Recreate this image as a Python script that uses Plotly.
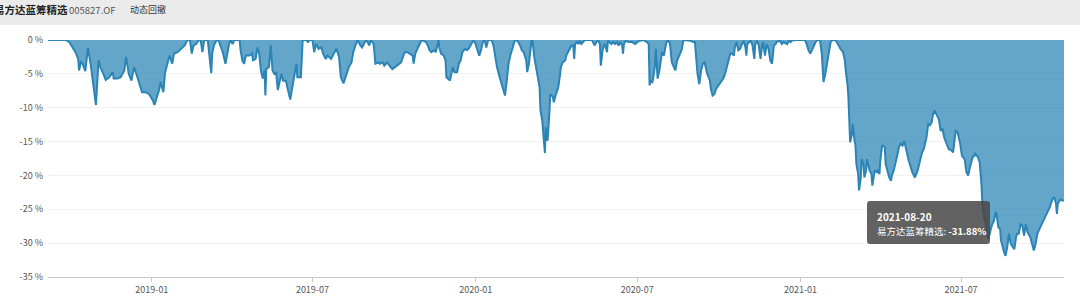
import plotly.graph_objects as go

# ---- data ----
fund_name = "易方达蓝筹精选"
fund_code = "005827.OF"
chart_kind = "动态回撤"

dates = [
    "2018-09-06", "2018-09-26", "2018-09-30", "2018-10-03", "2018-10-07", "2018-10-10", "2018-10-11", "2018-10-13",
    "2018-10-15", "2018-10-18", "2018-10-21", "2018-10-24", "2018-10-27", "2018-10-30", "2018-11-02", "2018-11-04",
    "2018-11-08", "2018-11-10", "2018-11-14", "2018-11-18", "2018-11-19", "2018-11-23", "2018-11-27", "2018-12-01",
    "2018-12-03", "2018-12-06", "2018-12-09", "2018-12-12", "2018-12-15", "2018-12-18", "2018-12-21", "2018-12-25",
    "2018-12-29", "2019-01-02", "2019-01-04", "2019-01-06", "2019-01-09", "2019-01-11", "2019-01-14", "2019-01-16",
    "2019-01-19", "2019-01-21", "2019-01-24", "2019-01-26", "2019-01-30", "2019-02-03", "2019-02-07", "2019-02-10",
    "2019-02-13", "2019-02-15", "2019-02-17", "2019-02-20", "2019-02-23", "2019-02-25", "2019-02-27", "2019-03-01",
    "2019-03-05", "2019-03-09", "2019-03-10", "2019-03-12", "2019-03-15", "2019-03-17", "2019-03-20", "2019-03-22",
    "2019-03-25", "2019-03-27", "2019-03-29", "2019-03-31", "2019-04-02", "2019-04-04", "2019-04-10", "2019-04-11",
    "2019-04-13", "2019-04-15", "2019-04-17", "2019-04-21", "2019-04-24", "2019-04-25", "2019-04-28", "2019-04-30",
    "2019-05-02", "2019-05-04", "2019-05-06", "2019-05-08", "2019-05-09", "2019-05-10", "2019-05-13", "2019-05-15",
    "2019-05-17", "2019-05-19", "2019-05-21", "2019-05-23", "2019-05-25", "2019-05-27", "2019-05-29", "2019-06-01",
    "2019-06-04", "2019-06-06", "2019-06-08", "2019-06-11", "2019-06-13", "2019-06-14", "2019-06-18", "2019-06-20",
    "2019-06-24", "2019-06-26", "2019-06-28", "2019-07-01", "2019-07-03", "2019-07-05", "2019-07-08", "2019-07-11",
    "2019-07-13", "2019-07-16", "2019-07-18", "2019-07-22", "2019-07-25", "2019-07-28", "2019-07-31", "2019-08-02",
    "2019-08-05", "2019-08-08", "2019-08-11", "2019-08-14", "2019-08-16", "2019-08-19", "2019-08-21", "2019-08-24",
    "2019-08-26", "2019-08-29", "2019-08-31", "2019-09-03", "2019-09-05", "2019-09-08", "2019-09-10", "2019-09-13",
    "2019-09-15", "2019-09-18", "2019-09-20", "2019-09-23", "2019-09-26", "2019-09-29", "2019-10-02", "2019-10-04",
    "2019-10-07", "2019-10-09", "2019-10-11", "2019-10-13", "2019-10-16", "2019-10-19", "2019-10-22", "2019-10-23",
    "2019-10-25", "2019-10-28", "2019-10-30", "2019-11-01", "2019-11-03", "2019-11-06", "2019-11-08", "2019-11-10",
    "2019-11-12", "2019-11-15", "2019-11-17", "2019-11-19", "2019-11-20", "2019-11-21", "2019-11-23", "2019-11-26",
    "2019-11-28", "2019-11-29", "2019-12-01", "2019-12-03", "2019-12-05", "2019-12-06", "2019-12-08", "2019-12-11",
    "2019-12-13", "2019-12-15", "2019-12-17", "2019-12-20", "2019-12-22", "2019-12-24", "2019-12-27", "2019-12-29",
    "2019-12-31", "2020-01-02", "2020-01-05", "2020-01-07", "2020-01-09", "2020-01-11", "2020-01-13", "2020-01-15",
    "2020-01-19", "2020-01-21", "2020-01-23", "2020-01-25", "2020-01-28", "2020-01-31", "2020-02-03", "2020-02-05",
    "2020-02-07", "2020-02-09", "2020-02-12", "2020-02-14", "2020-02-16", "2020-02-18", "2020-02-20", "2020-02-22",
    "2020-02-24", "2020-02-27", "2020-02-28", "2020-03-01", "2020-03-04", "2020-03-05", "2020-03-07", "2020-03-09",
    "2020-03-10", "2020-03-13", "2020-03-14", "2020-03-16", "2020-03-17", "2020-03-19", "2020-03-20", "2020-03-22",
    "2020-03-24", "2020-03-25", "2020-03-28", "2020-03-29", "2020-03-31", "2020-04-03", "2020-04-05", "2020-04-06",
    "2020-04-08", "2020-04-11", "2020-04-12", "2020-04-14", "2020-04-16", "2020-04-18", "2020-04-20", "2020-04-21",
    "2020-04-22", "2020-04-24", "2020-04-26", "2020-04-27", "2020-04-29", "2020-05-01", "2020-05-03", "2020-05-11",
    "2020-05-12", "2020-05-14", "2020-05-16", "2020-05-18", "2020-05-20", "2020-05-21", "2020-05-23", "2020-05-25",
    "2020-05-26", "2020-05-28", "2020-05-29", "2020-05-31", "2020-06-02", "2020-06-04", "2020-06-06", "2020-06-08",
    "2020-06-10", "2020-06-12", "2020-06-14", "2020-06-15", "2020-06-16", "2020-06-18", "2020-06-21", "2020-06-25",
    "2020-06-29", "2020-07-01", "2020-07-04", "2020-07-08", "2020-07-12", "2020-07-14", "2020-07-15", "2020-07-16",
    "2020-07-18", "2020-07-19", "2020-07-21", "2020-07-22", "2020-07-24", "2020-07-26", "2020-07-28", "2020-07-29",
    "2020-07-31", "2020-08-02", "2020-08-03", "2020-08-05", "2020-08-07", "2020-08-09", "2020-08-11", "2020-08-13",
    "2020-08-15", "2020-08-17", "2020-08-18", "2020-08-20", "2020-08-22", "2020-08-24", "2020-08-30", "2020-09-02",
    "2020-09-04", "2020-09-06", "2020-09-07", "2020-09-09", "2020-09-11", "2020-09-13", "2020-09-15", "2020-09-17",
    "2020-09-18", "2020-09-21", "2020-09-22", "2020-09-24", "2020-09-26", "2020-09-28", "2020-10-01", "2020-10-03",
    "2020-10-06", "2020-10-08", "2020-10-10", "2020-10-12", "2020-10-14", "2020-10-16", "2020-10-18", "2020-10-19",
    "2020-10-21", "2020-10-23", "2020-10-25", "2020-10-27", "2020-10-29", "2020-10-31", "2020-11-01", "2020-11-02",
    "2020-11-05", "2020-11-06", "2020-11-08", "2020-11-10", "2020-11-11", "2020-11-13", "2020-11-15", "2020-11-16",
    "2020-11-17", "2020-11-19", "2020-11-20", "2020-11-22", "2020-11-24", "2020-11-26", "2020-11-28", "2020-11-30",
    "2020-12-01", "2020-12-02", "2020-12-04", "2020-12-05", "2020-12-09", "2020-12-11", "2020-12-13", "2020-12-17",
    "2020-12-19", "2020-12-21", "2020-12-22", "2020-12-26", "2021-01-06", "2021-01-08", "2021-01-10", "2021-01-12",
    "2021-01-14", "2021-01-16", "2021-01-18", "2021-01-20", "2021-01-23", "2021-01-25", "2021-01-27", "2021-01-29",
    "2021-01-31", "2021-02-02", "2021-02-04", "2021-02-06", "2021-02-09", "2021-02-11", "2021-02-13", "2021-02-15",
    "2021-02-18", "2021-02-20", "2021-02-21", "2021-02-23", "2021-02-24", "2021-02-25", "2021-02-26", "2021-02-28",
    "2021-03-01", "2021-03-03", "2021-03-04", "2021-03-05", "2021-03-07", "2021-03-08", "2021-03-10", "2021-03-11",
    "2021-03-13", "2021-03-14", "2021-03-16", "2021-03-17", "2021-03-19", "2021-03-20", "2021-03-22", "2021-03-23",
    "2021-03-25", "2021-03-26", "2021-03-28", "2021-03-29", "2021-03-31", "2021-04-01", "2021-04-03", "2021-04-04",
    "2021-04-06", "2021-04-07", "2021-04-09", "2021-04-11", "2021-04-13", "2021-04-14", "2021-04-16", "2021-04-18",
    "2021-04-20", "2021-04-22", "2021-04-24", "2021-04-26", "2021-04-28", "2021-04-30", "2021-05-03", "2021-05-07",
    "2021-05-10", "2021-05-13", "2021-05-16", "2021-05-18", "2021-05-20", "2021-05-23", "2021-05-25", "2021-05-27",
    "2021-05-29", "2021-05-30", "2021-06-01", "2021-06-04", "2021-06-06", "2021-06-08", "2021-06-10", "2021-06-12",
    "2021-06-15", "2021-06-17", "2021-06-20", "2021-06-22", "2021-06-24", "2021-06-25", "2021-06-27", "2021-06-29",
    "2021-06-30", "2021-07-02", "2021-07-05", "2021-07-07", "2021-07-09", "2021-07-11", "2021-07-14", "2021-07-16",
    "2021-07-17", "2021-07-20", "2021-07-22", "2021-07-24", "2021-07-25", "2021-07-27", "2021-07-29", "2021-07-31",
    "2021-08-01", "2021-08-03", "2021-08-05", "2021-08-07", "2021-08-09", "2021-08-10", "2021-08-12", "2021-08-14",
    "2021-08-15", "2021-08-18", "2021-08-20", "2021-08-22", "2021-08-24", "2021-08-26", "2021-08-28", "2021-08-30",
    "2021-09-01", "2021-09-02", "2021-09-04", "2021-09-05", "2021-09-06", "2021-09-08", "2021-09-10", "2021-09-12",
    "2021-09-14", "2021-09-17", "2021-09-19", "2021-09-21", "2021-09-23", "2021-09-25", "2021-09-28", "2021-10-01",
    "2021-10-03", "2021-10-06", "2021-10-09", "2021-10-12", "2021-10-14", "2021-10-16", "2021-10-17", "2021-10-18",
    "2021-10-21", "2021-10-23", "2021-10-25",
]

drawdown = [
    0, 0, -0.3, -1.0, -1.8, -2.8, -4.5, -3.3,
    -3.5, -4.6, -1.2, -3.5, -7.0, -9.6, -3.0, -4.0,
    -5.2, -5.9, -5.5, -4.75, -5.7, -5.7, -5.5, -4.5,
    -2.5, -5.0, -6.0, -4.0, -5.2, -6.5, -7.7, -7.7,
    -8.0, -8.9, -9.6, -8.7, -7.5, -6.2, -7.7, -4.75,
    -3.5, -2.3, -3.5, -2.0, -1.8, -1.3, -0.8, 0,
    0, -2.0, -0.8, -0.6, 0, 0, -1.8, 0,
    0, -4.9, -2.0, -0.8, 0, 0, -1.1, -1.8,
    -3.5, -2.0, -0.6, 0, -0.6, 0, 0, -1.5,
    -3.0, -3.5, -2.3, -2.3, -2.0, -3.0, -2.8, -1.1,
    -2.0, -4.5, -5.7, -4.5, -8.2, -4.3, -4.0, -0.8,
    -4.5, -5.0, -4.75, -7.4, -6.0, -5.0, -6.0, -6.0,
    -7.7, -8.8, -7.2, -5.0, -3.5, -5.5, -5.5, 0,
    0, -0.3, 0, 0, -1.8, -0.6, -1.3, -1.1,
    -2.0, -2.8, -2.3, -2.8, -2.0, -1.3, -2.5, -5.5,
    -6.4, -5.2, -4.0, -3.3, -1.8, -0.6, 0, -0.8,
    -1.1, -0.3, 0, -0.8, 0, -0.6, -3.5, -3.3,
    -3.5, -3.3, -3.8, -3.3, -3.8, -4.3, -4.0, -3.8,
    -3.5, -3.3, -2.5, -1.8, -1.8, -2.0, -2.3, -3.5,
    -2.0, -1.1, -0.6, 0, -0.1, -0.3, -0.8, -1.5,
    -1.8, -1.5, -1.8, -0.6, 0, -1.1, -2.0, -2.3,
    -3.0, -5.5, -5.7, -6.0, -4.75, -4.0, -4.75, -4.75,
    -3.5, -3.0, -1.8, -1.3, -1.5, -1.3, -0.6, -0.1,
    -0.3, -1.1, -2.3, -1.5, -0.3, 0, -1.1, 0,
    0, -0.8, -2.5, -4.0, -5.5, -6.7, -8.2, -6.0,
    -3.5, -2.3, -1.1, -0.1, 0, -0.3, -0.8, -1.5,
    -1.8, -3.0, -4.75, -3.5, 0, 0, -2.5, -4.5,
    -4.75, -7.0, -10.4, -11.9, -13.4, -16.7, -12.9, -14.9,
    -10.9, -8.0, -8.4, -9.2, -8.2, -7.0, -5.2, -4.0,
    -3.3, -3.0, -2.3, -1.8, -1.5, -0.8, -0.8, -2.8,
    -0.6, -0.3, -0.6, -0.1, -0.6, -0.3, 0, 0,
    -0.3, -0.8, -0.3, 0, -0.6, -3.8, -1.5, -0.6,
    -0.8, -1.8, -0.1, -0.3, -0.6, -0.3, -0.6, -0.3,
    -0.8, -0.3, -0.8, -2.0, -0.6, -0.1, -0.3, -0.3,
    -0.6, -0.3, -0.1, 0, -0.3, -0.6, -6.7, -6.0,
    -6.2, -5.7, -3.8, -1.3, -5.7, -4.5, -2.8, -1.8,
    -2.3, -1.1, -0.3, 0, -0.6, -3.3, -3.8, -4.5,
    -3.0, -2.3, -2.0, -1.5, -0.1, 0, -0.1, -0.3,
    -0.3, -3.0, -5.0, -6.5, -4.5, -3.5, -3.3, -4.5,
    -5.0, -6.0, -7.2, -8.2, -8.0, -7.2, -6.7, -6.2,
    -5.7, -5.0, -4.0, -3.0, -2.0, -2.0, -2.3, -1.1,
    -0.3, -1.5, -1.3, -0.6, -0.1, -1.1, -2.3, -0.6,
    -0.3, -0.1, -0.8, -2.8, -0.6, -0.1, -0.8, -1.5,
    -2.8, -0.6, -0.3, -2.3, -0.6, -1.3, -3.0, -3.5,
    -2.3, -0.8, -0.6, -0.3, -0.1, -0.6, -0.3, -0.6,
    -0.1, -0.3, -0.1, 0, 0, -0.6, -1.5, -2.0,
    -1.5, -0.8, -0.3, 0, 0, -2.0, -6.2, -5.0,
    -3.5, -1.5, -0.3, 0, 0, -0.3, -0.8, -1.3,
    -1.8, -3.0, -4.5, -6.5, -8.4, -10.9, -15.1, -13.9,
    -12.4, -14.9, -15.6, -18.3, -19.8, -22.2, -20.3, -17.6,
    -18.3, -20.3, -19.3, -17.6, -18.8, -19.3, -19.8, -21.5,
    -19.8, -19.3, -19.5, -19.3, -19.8, -17.8, -15.6, -15.6,
    -15.8, -18.3, -19.3, -20.3, -20.8, -20.0, -19.3, -18.3,
    -17.1, -15.8, -15.3, -15.6, -14.9, -16.1, -17.8, -19.5,
    -20.3, -19.3, -17.8, -16.6, -16.1, -14.4, -12.4, -12.6,
    -12.1, -11.2, -10.4, -11.2, -11.7, -13.4, -13.1, -14.4,
    -15.3, -16.1, -16.3, -16.6, -14.4, -13.4, -13.6, -14.6,
    -15.3, -17.1, -17.6, -19.5, -20.0, -18.8, -17.3, -17.1,
    -16.8, -17.3, -18.1, -21.3, -24.2, -26.2, -27.2, -28.9,
    -29.4, -28.2, -27.2, -26.7, -25.4, -25.7, -27.7, -27.9,
    -29.6, -31.1, -31.88, -30.6, -28.6, -30.1, -30.6, -30.9,
    -29.1, -28.6, -28.6, -27.7, -27.2, -27.4, -28.9, -27.2,
    -28.4, -29.1, -30.1, -31.1, -30.1, -28.6, -27.7, -26.9,
    -26.2, -25.4, -24.7, -23.5, -23.2, -24.2, -25.7, -24.2,
    -23.5, -23.7, -23.7,
]

y_tick_values = [-35, -30, -25, -20, -15, -10, -5, 0]
y_tick_labels = ["-35 %", "-30 %", "-25 %", "-20 %", "-15 %", "-10 %", "-5 %", "0 %"]

# tooltip point (shown in the reference)
tip_index = drawdown.index(min(drawdown))

# ---- layout geometry ----
W, H = 1080, 302
ML, MR, MT, MB = 48, 16, 40, 25
PW, PH = W - ML - MR, H - MT - MB


def px_x(px):
    return (px - ML) / PW


def px_y(py):
    return (H - MB - py) / PH


def rounded_box(x0, y0, x1, y1, r):
    # path in paper coordinates for a rounded rectangle given in pixels
    pts = [
        ("M", x0 + r, y0), ("L", x1 - r, y0), ("Q", x1, y0, x1, y0 + r),
        ("L", x1, y1 - r), ("Q", x1, y1, x1 - r, y1), ("L", x0 + r, y1),
        ("Q", x0, y1, x0, y1 - r), ("L", x0, y0 + r), ("Q", x0, y0, x0 + r, y0),
    ]
    out = []
    for p in pts:
        cmd, nums = p[0], p[1:]
        coords = []
        for i in range(0, len(nums), 2):
            coords.append(f"{px_x(nums[i]):.5f},{px_y(nums[i + 1]):.5f}")
        out.append(cmd + " " + " ".join(coords))
    return " ".join(out) + " Z"


FONT = "Noto Sans CJK SC, Noto Sans, sans-serif"
LINE = "#2a84b6"
FILL = "rgba(42,132,182,0.73)"

fig = go.Figure()
fig.add_trace(go.Scatter(
    x=dates, y=drawdown, mode="lines", name=fund_name,
    line=dict(color=LINE, width=2),
    fill="tozeroy", fillcolor=FILL,
    hovertemplate="%{x}<br>" + fund_name + ": %{y:.2f}%<extra></extra>",
))

fig.update_layout(
    width=W, height=H,
    margin=dict(l=ML, r=MR, t=MT, b=MB, pad=0, autoexpand=False),
    paper_bgcolor="white", plot_bgcolor="white",
    showlegend=False,
    font=dict(family=FONT, size=9, color="#555"),
    xaxis=dict(
        type="date", range=[dates[0], dates[-1]], automargin=False,
        tickformat="%Y-%m", dtick="M6", tick0="2019-01-01",
        showgrid=False, showline=True, linecolor="#c8c8c8", linewidth=1,
        ticks="outside", ticklen=4, tickcolor="#c8c8c8",
        tickfont=dict(size=9, color="#555"), zeroline=False,
    ),
    yaxis=dict(
        range=[-35, 0], tickvals=y_tick_values, ticktext=y_tick_labels,
        automargin=False,
        showgrid=True, gridcolor="#f1f1f1", gridwidth=1,
        zeroline=False, showline=False, ticks="",
        tickfont=dict(size=9, color="#555"), ticklabelstandoff=4,
    ),
    shapes=[
        dict(type="rect", xref="paper", yref="paper",
             x0=px_x(0), x1=px_x(W), y0=px_y(25), y1=px_y(0),
             fillcolor="#ebebeb", line=dict(width=0), layer="below"),
        dict(type="path", xref="paper", yref="paper",
             path=rounded_box(867, 201, 990, 244, 3),
             fillcolor="rgba(70,70,70,0.85)", line=dict(width=0), layer="above"),
    ],
    annotations=[
        dict(text="<b>" + fund_name + "</b>", xref="paper", yref="paper",
             x=px_x(-8), y=px_y(10), xanchor="left", yanchor="middle", showarrow=False,
             font=dict(size=10.5, color="#222", family=FONT)),
        dict(text=fund_code, xref="paper", yref="paper",
             x=px_x(67), y=px_y(10), xanchor="left", yanchor="middle", showarrow=False,
             font=dict(size=9.5, color="#555", family=FONT)),
        dict(text=chart_kind, xref="paper", yref="paper",
             x=px_x(128), y=px_y(10), xanchor="left", yanchor="middle", showarrow=False,
             font=dict(size=9, color="#333", family=FONT)),
        dict(text="<b>" + dates[tip_index] + "</b>",
             xref="paper", yref="paper", x=px_x(875), y=px_y(216.5),
             xanchor="left", yanchor="middle", align="left", showarrow=False,
             font=dict(size=10, color="white", family=FONT)),
        dict(text=fund_name + ": <b>" + f"{drawdown[tip_index]:.2f}%" + "</b>",
             xref="paper", yref="paper", x=px_x(875), y=px_y(231),
             xanchor="left", yanchor="middle", align="left", showarrow=False,
             font=dict(size=9.5, color="white", family=FONT)),
    ],
)

fig.write_html("out.html")
